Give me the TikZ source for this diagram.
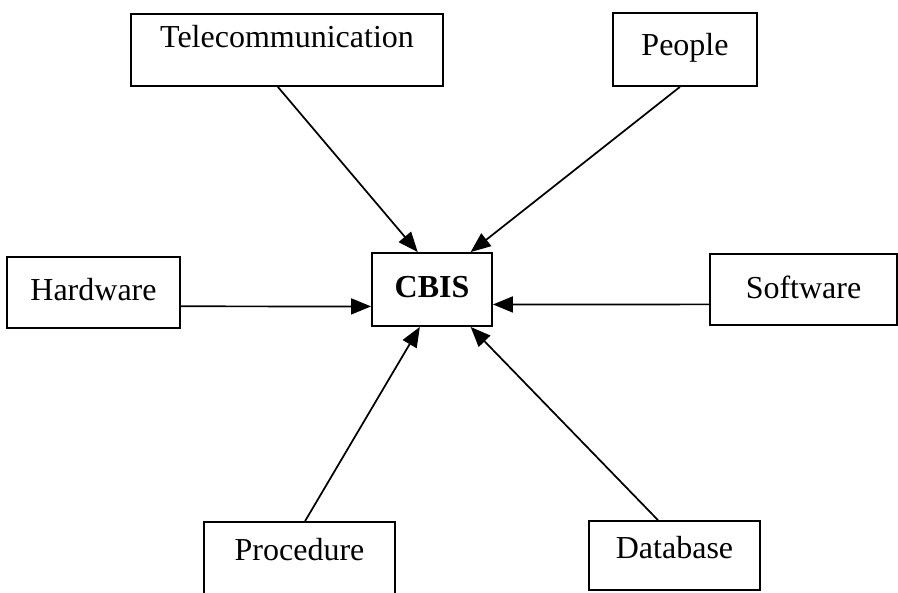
\documentclass[tikz,border=0pt]{standalone}
\usepackage{fontspec}
\setmainfont{Liberation Serif}
\usetikzlibrary{arrows.meta,calc}
\def\pxu{0.75pt}
\tikzset{
  box/.style={draw, line width=1.4pt, inner sep=0pt, fill=white},
  lab/.style={inner sep=0pt, text height=15.9pt, text depth=0pt, font=\fontsize{24}{28}\selectfont},
  arr/.style={line width=1.3pt, -{Triangle[length=15pt,width=12pt]}}
}
\begin{document}
\begin{tikzpicture}[x=0.75pt,y=-0.75pt]
\useasboundingbox (0,0) rectangle (898,592);
% boxes: center (x,y), width, height
\node[box, minimum width=312*\pxu, minimum height=72*\pxu,
  label={[lab, yshift=13.5*\pxu]center:Telecommunication}] (tel) at (287,50) {};
\node[box, minimum width=144*\pxu, minimum height=73*\pxu,
  label={[lab, yshift=5*\pxu]center:People}] (peo) at (685,49.5) {};
\node[box, minimum width=173*\pxu, minimum height=71*\pxu,
  label={[lab, yshift=3*\pxu]center:Hardware}] (hw) at (93.5,292.5) {};
\node[box, minimum width=120*\pxu, minimum height=73*\pxu,
  label={[lab, yshift=3*\pxu, font=\fontsize{24}{28}\selectfont\bfseries]center:CBIS}] (cbis) at (432,289.5) {};
\node[box, minimum width=187*\pxu, minimum height=71*\pxu,
  label={[lab, yshift=2*\pxu]center:Software}] (sw) at (803.5,289.5) {};
\node[box, minimum width=191*\pxu, minimum height=72*\pxu,
  label={[lab, yshift=8*\pxu]center:Procedure}] (proc) at (299.5,558) {};
\node[box, minimum width=171*\pxu, minimum height=69*\pxu,
  label={[lab, yshift=8*\pxu]center:Database}] (db) at (674.5,555.5) {};
% connectors
\draw[arr] ($(tel.south west)!0.471!(tel.south east)$) -- ($(cbis.north west)!0.383!(cbis.north east)$);
\draw[arr] ($(peo.south west)!0.465!(peo.south east)$) -- ($(cbis.north west)!0.817!(cbis.north east)$);
\draw[arr] ($(hw.south east)!0.31!(hw.north east)$) -- ($(cbis.south west)!0.274!(cbis.north west)$);
\draw[arr] ($(sw.south west)!0.296!(sw.north west)$) -- ($(cbis.south east)!0.30!(cbis.north east)$);
\draw[arr] ($(proc.north west)!0.529!(proc.north east)$) -- ($(cbis.south west)!0.40!(cbis.south east)$);
\draw[arr] ($(db.north west)!0.404!(db.north east)$) -- ($(cbis.south west)!0.817!(cbis.south east)$);
\end{tikzpicture}
\end{document}
